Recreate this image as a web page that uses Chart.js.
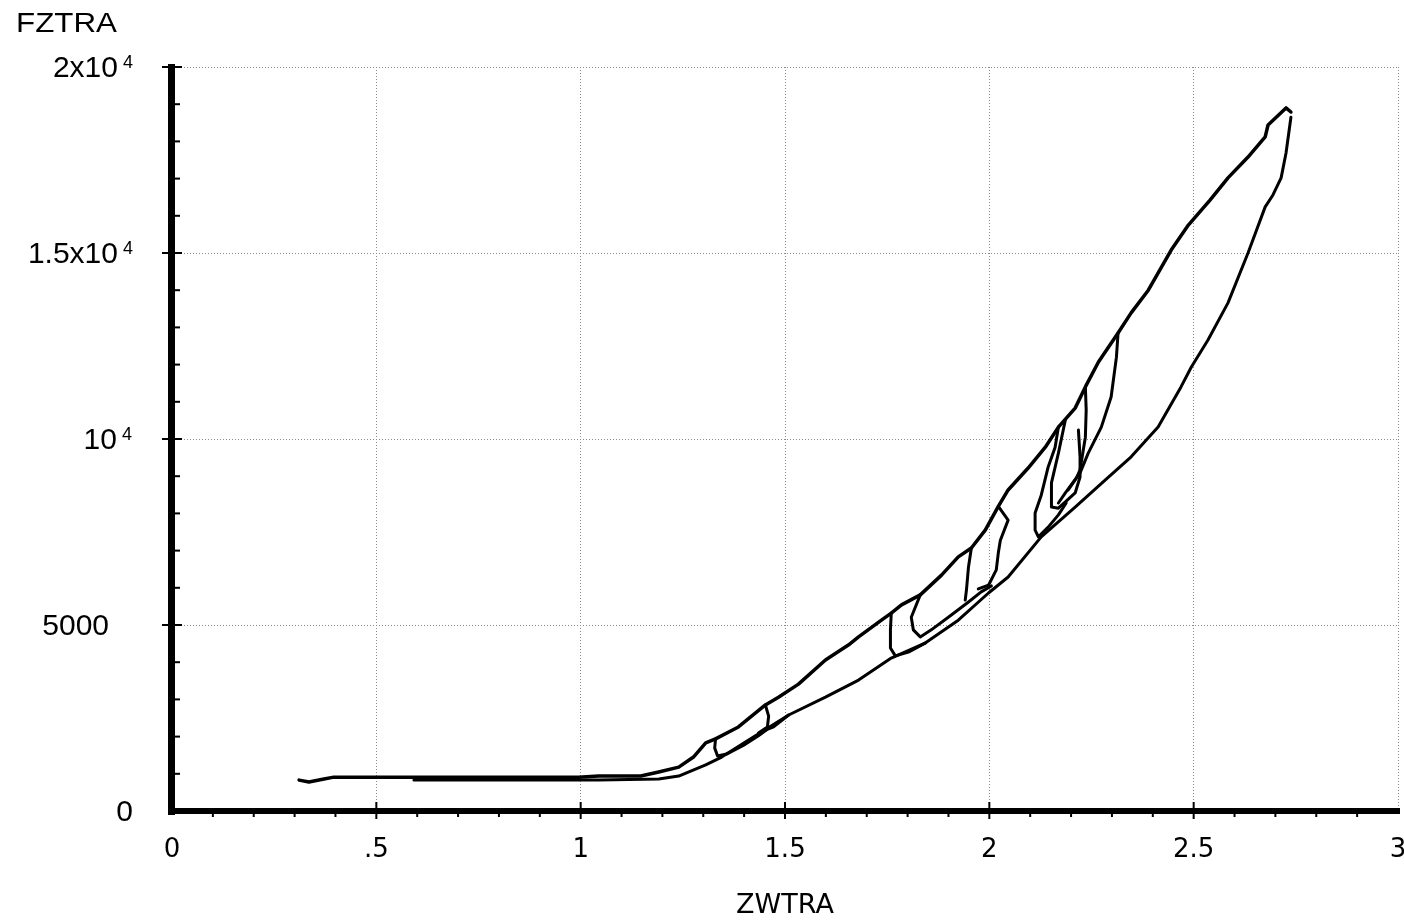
<!DOCTYPE html>
<html><head><meta charset="utf-8">
<script src="https://cdn.jsdelivr.net/npm/chart.js@4.4.1/dist/chart.umd.min.js"></script>
<style>html,body{margin:0;padding:0;background:#fff;}canvas{display:block;}</style>
</head><body>
<canvas id="c" width="1404" height="922"></canvas>
<script>
// ---- tick labels ----
const xTickValues = [0, 0.5, 1, 1.5, 2, 2.5, 3];
const xTickLabels = ['0', '.5', '1', '1.5', '2', '2.5', '3'];
const yTickValues = [0, 5000, 10000, 15000, 20000];
const yTickMantissa = ['0', '5000', '10', '1.5x10', '2x10'];
const yTickExponent = ['', '', '4', '4', '4'];

// ---- loading envelope (ZWTRA / FZTRA) ----
const loadX = [0.311,0.335,0.372,0.396,0.506,0.995,1.044,1.147,1.191,1.240,1.276,1.306,1.330,1.386,1.452,1.484,1.533,1.599,1.655,1.680,1.736,1.760,1.785,1.831,1.883,1.924,1.956,1.990,2.022,2.046,2.095,2.137,2.169,2.210,2.235,2.267,2.315,2.347,2.389,2.445,2.487,2.540,2.584,2.633,2.675,2.682,2.726,2.738];
const loadY = [830,780,860,910,910,910,940,940,1050,1180,1450,1830,1940,2260,2850,3060,3410,4060,4460,4680,5130,5320,5540,5810,6340,6830,7070,7550,8190,8630,9220,9780,10320,10830,11400,12070,12850,13390,14000,15080,15750,16420,17020,17580,18120,18440,18900,18790];

// ---- final unloading branch ----
const unloadX = [2.738,2.726,2.714,2.694,2.675,2.633,2.584,2.535,2.494,2.469,2.413,2.347,2.284,2.210,2.127,2.046,1.998,1.924,1.844,1.760,1.680,1.599,1.509,1.411,1.345,1.306,1.240,1.191,1.044,0.592];
const unloadY = [18650,17690,17020,16560,16240,15000,13660,12660,11930,11400,10320,9520,8900,8170,7370,6290,5860,5130,4520,4110,3520,3060,2580,1910,1450,1240,940,860,830,830];

// ---- inner partial loops ----
const loop1X = [1.330,1.328,1.335,1.357,1.399,1.435,1.455];
const loop1Y = [1940,1690,1480,1530,1770,2020,2180];
const loop2X = [1.452,1.460,1.457,1.435,1.472,1.509];
const loop2Y = [2850,2550,2260,2100,2260,2580];
const loop3X = [1.760,1.758,1.758,1.770,1.802,1.844];
const loop3Y = [5320,4870,4380,4170,4270,4520];
const loop4X = [1.831,1.809,1.814,1.831,1.858,1.907,1.949,1.980,2.005];
const loop4Y = [5810,5210,4870,4680,4870,5270,5620,5890,6050];
const loop5X = [1.956,1.949,1.944,1.941];
const loop5Y = [7070,6560,5940,5670];
const loop6X = [2.022,2.046,2.027,2.022,2.017,1.998,1.973];
const loop6Y = [8190,7820,7280,6940,6480,6070,5970];
const loop7X = [2.169,2.161,2.144,2.127,2.112,2.112,2.120,2.144,2.169,2.188];
const loop7Y = [10320,9780,9250,8490,8010,7550,7370,7630,7960,8280];
const loop8X = [2.186,2.169,2.152,2.152,2.169,2.186,2.210,2.222,2.222,2.218];
const loop8Y = [10510,9620,8820,8170,8140,8310,8550,8980,9520,10240];
const loop9X = [2.235,2.237,2.235,2.222,2.213,2.193];
const loop9Y = [11400,10780,10050,9170,8950,8630];
const loop10X = [2.315,2.311,2.298,2.274,2.242,2.222,2.186,2.169];
const loop10Y = [12850,12200,11130,10320,9620,9090,8550,8280];

const segments = [
  [loadX, loadY, 3.5], [unloadX, unloadY, 3],
  [loop1X, loop1Y, 3], [loop2X, loop2Y, 3], [loop3X, loop3Y, 3], [loop4X, loop4Y, 3],
  [loop5X, loop5Y, 3], [loop6X, loop6Y, 3], [loop7X, loop7Y, 3], [loop8X, loop8Y, 3],
  [loop9X, loop9Y, 3], [loop10X, loop10Y, 3]
];
const datasets = segments.map(([xs, ys, w]) => ({
  data: xs.map((v, i) => ({x: v, y: ys[i]})),
  showLine: true, borderColor: '#000', borderWidth: w, pointRadius: 0,
  tension: 0, fill: false, borderJoinStyle: 'round', borderCapStyle: 'round'
}));

// right edge (px) of each y tick label, as laid out in the original
const yLabelRight = [133, 109, 132, 133, 133];

const axisPlugin = {
  id: 'axisDecor',
  afterDraw(chart) {
    const {ctx, chartArea: a, scales: {x, y}} = chart;
    const x0 = x.getPixelForValue(0), y0 = y.getPixelForValue(0);
    ctx.save();
    ctx.fillStyle = '#000';
    // thick axes
    ctx.fillRect(x0 - 4, a.top - 3, 7, y0 - a.top + 7);
    ctx.fillRect(x0 - 4, y0 - 3, a.right - x0 + 6, 6);
    // x minor / major ticks
    for (let k = 1; k < 30; k++) {
      const p = x.getPixelForValue(k / 10);
      if (k % 5 === 0) ctx.fillRect(p - 1, y0 - 9, 2, 17);
      else ctx.fillRect(p - 1, y0, 2, 6);
    }
    // y minor / major ticks
    for (let k = 1; k <= 20; k++) {
      const p = y.getPixelForValue(k * 1000);
      if (k % 5 === 0) ctx.fillRect(x0 - 10, p - 1, 20, 2);
      else ctx.fillRect(x0, p - 1, 8, 2);
    }
    // y tick labels with superscript exponent
    yTickValues.forEach((v, i) => {
      const p = y.getPixelForValue(v);
      const edge = yLabelRight[i];
      let r = edge;
      if (yTickExponent[i]) {
        ctx.font = '18px "Liberation Sans", Arial, sans-serif';
        ctx.textAlign = 'right';
        ctx.textBaseline = 'top';
        ctx.fillText(yTickExponent[i], edge, p - 13);
        r = edge - ctx.measureText(yTickExponent[i]).width - 5;
      }
      ctx.font = '30px "Liberation Sans", Arial, sans-serif';
      ctx.textAlign = 'right';
      ctx.textBaseline = 'middle';
      ctx.fillText(yTickMantissa[i], r, p + 2);
    });
    // y axis title at top-left
    ctx.save();
    ctx.font = '27px "Liberation Sans", Arial, sans-serif';
    ctx.textAlign = 'left';
    ctx.textBaseline = 'alphabetic';
    ctx.translate(16, 32);
    ctx.scale(1.16, 1);
    ctx.fillText('FZTRA', 0, 0);
    ctx.restore();
    ctx.restore();
  }
};

new Chart(document.getElementById('c').getContext('2d'), {
  type: 'scatter',
  data: {datasets},
  options: {
    responsive: false, animation: false, devicePixelRatio: 1,
    layout: {padding: {left: 0, top: 67, right: 6, bottom: 0}},
    plugins: {legend: {display: false}, tooltip: {enabled: false}},
    scales: {
      x: {
        type: 'linear', min: 0, max: 3,
        afterBuildTicks: s => { s.ticks = xTickValues.map(v => ({value: v})); },
        ticks: {
          callback: (v, i) => xTickLabels[i], autoSkip: false, maxRotation: 0,
          font: {family: 'DejaVu Sans', size: 26}, color: '#000', padding: 24
        },
        grid: {color: '#8a8a8a', lineWidth: 1, drawTicks: false},
        border: {display: false, dash: [1, 2]},
        title: {display: true, text: 'ZWTRA', color: '#000',
                font: {family: 'DejaVu Sans', size: 27}, padding: {top: 0, bottom: 0}},
        afterFit: s => { s.height = 111; s.paddingLeft = 0; s.paddingRight = 0; }
      },
      y: {
        type: 'linear', min: 0, max: 20000,
        afterBuildTicks: s => { s.ticks = yTickValues.map(v => ({value: v})); },
        ticks: {display: false},
        grid: {color: '#8a8a8a', lineWidth: 1, drawTicks: false},
        border: {display: false, dash: [1, 2]},
        afterFit: s => { s.width = 172; s.paddingTop = 0; s.paddingBottom = 0; }
      }
    }
  },
  plugins: [axisPlugin]
});
</script>
</body></html>
